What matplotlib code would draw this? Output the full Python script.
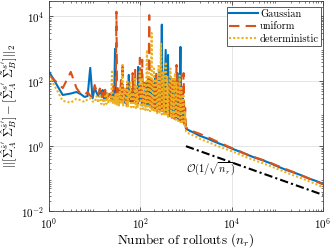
import matplotlib
matplotlib.use('Agg')
import matplotlib.pyplot as plt
from matplotlib.ticker import LogLocator, NullFormatter

plt.rcParams['font.family'] = 'serif'
plt.rcParams['font.serif'] = ['cmr10']
plt.rcParams['mathtext.fontset'] = 'cm'
plt.rcParams['axes.formatter.use_mathtext'] = True

# number of rollouts (shared by all three noise types)
n_rollouts = [1, 2, 3, 4, 5, 6, 7, 8, 9, 10,
              11, 12, 13, 14, 15, 16, 17, 18, 19,
              20, 21, 22, 23, 24, 25, 26, 27, 28, 29, 30, 31,
              32, 34, 35, 36, 38, 39, 41, 42, 44, 46, 48, 50,
              52, 54, 56, 58, 61, 63, 66, 68, 71, 74, 77, 80,
              83, 87, 90, 94, 98, 102, 106, 110, 115, 119, 124, 129,
              134, 140, 145, 151, 157, 164, 170, 177, 184, 192, 199, 207,
              216, 224, 233, 243, 252, 263, 273, 284, 296, 307, 320, 332,
              346, 360, 374, 389, 405, 421, 438, 455, 474, 493, 512, 533,
              554, 576, 599, 623, 648, 674, 701, 729, 758, 789, 820, 853,
              887, 923, 960, 1000,
              1200, 1500, 2000, 3000, 5000, 7000, 10000, 15000, 20000, 30000,
              50000, 70000, 100000, 150000, 200000, 300000, 500000, 700000, 1000000]

err_gaussian = [200, 38, 42, 47, 40, 33, 35, 260, 30, 62,
                45, 35, 55, 40, 54, 30, 48, 28, 42,
                33, 40, 38, 30, 26, 35, 45, 60, 1000, 30, 28, 36,
                40, 24, 33, 35, 30, 26, 45, 25, 22, 38, 30, 25,
                60, 30, 158, 28, 24, 40, 48, 22, 35, 60, 28, 32,
                35, 20, 280, 26, 25, 70, 30, 18, 45, 24, 20, 50,
                90, 17, 30, 120, 19, 40, 60, 15, 35, 85, 16, 28,
                150, 14, 40, 25, 70, 200, 13, 30, 5600, 12, 45, 14,
                120, 930, 11, 35, 650, 10, 40, 140, 9, 25, 80, 8,
                30, 45, 7.5, 22, 180, 7, 20, 60, 1150, 6, 18, 30,
                5.5, 12, 6, 3.5,
                3.0, 2.6, 2.1, 1.7, 1.25, 1.05, 0.85, 0.68, 0.58, 0.46,
                0.36, 0.30, 0.24, 0.19, 0.165, 0.135, 0.10, 0.085, 0.07]

err_uniform = [158, 62, 195, 62, 40, 38, 47, 36, 33, 77,
               50, 38, 60, 30, 45, 28, 55, 25, 40,
               30, 38, 45, 28, 25, 50, 70, 27, 35, 40, 14000, 30,
               30, 60, 22, 40, 110, 30, 370, 25, 35, 50, 28, 20,
               80, 35, 24, 45, 40, 22, 60, 180, 25, 40, 225, 22,
               30, 55, 20, 35, 530, 30, 40, 460, 18, 50, 90, 16,
               35, 60, 18, 45, 11000, 15, 40, 150, 14, 50, 70, 13,
               35, 200, 12, 60, 90, 11, 40, 280, 12, 30, 110, 10,
               45, 60, 140, 9, 35, 70, 8.5, 25, 90, 7.5, 40, 140,
               7, 30, 40, 320, 6.5, 25, 100, 6, 35, 60, 5.5, 20,
               180, 5, 15, 3.8,
               3.2, 2.8, 2.4, 1.9, 1.35, 1.1, 0.88, 0.70, 0.58, 0.47,
               0.37, 0.31, 0.25, 0.20, 0.17, 0.135, 0.10, 0.083, 0.066]

err_deterministic = [147, 25, 22, 29, 26, 23, 28, 30, 24, 23,
                     35, 22, 40, 20, 30, 19, 35, 20, 45,
                     21, 28, 35, 22, 225, 20, 30, 35, 19, 40, 25, 19,
                     45, 18, 30, 70, 20, 35, 320, 18, 40, 60, 25, 17,
                     110, 17, 45, 30, 90, 16, 35, 45, 16, 50, 120, 15,
                     70, 15, 40, 60, 200, 14, 45, 130, 14, 35, 80, 13,
                     50, 930, 13, 60, 180, 12, 45, 3100, 12, 70, 250, 11,
                     60, 120, 10.5, 45, 300, 10, 70, 1550, 9.5, 60, 200, 9,
                     50, 400, 8.5, 150, 8, 60, 90, 250, 7.5, 40, 120, 7,
                     60, 180, 6.5, 90, 50, 6, 40, 150, 5.5, 70, 5, 30,
                     40, 4.5, 12, 2.8,
                     2.4, 2.1, 1.7, 1.35, 1.0, 0.85, 0.70, 0.56, 0.47, 0.38,
                     0.29, 0.245, 0.20, 0.16, 0.135, 0.11, 0.082, 0.068, 0.054]

# reference rate O(1/sqrt(n_r))
ref_n = [1000, 1000000]
ref_err = [1.0, 0.0316]

x_ticks = [1, 1e2, 1e4, 1e6]
y_ticks = [1e-2, 1, 1e2, 1e4]

fig = plt.figure(figsize=(3.32, 2.48), dpi=100)
ax = fig.add_axes([0.1476, 0.149, 0.825, 0.847])

ax.plot(n_rollouts, err_gaussian, color='#0072BD', lw=1.5, label='Gaussian')
ax.plot(n_rollouts, err_uniform, color='#D95319', lw=1.5, ls=(0, (5, 3)), label='uniform')
ax.plot(n_rollouts, err_deterministic, color='#EDB120', lw=1.5, ls=(0, (1, 1)), label='deterministic')
ax.plot(ref_n, ref_err, color='black', lw=1.5, ls=(0, (4, 1.5, 1, 1.5)))
ax.text(1000, 0.19, r'$\mathcal{O}(1/\sqrt{n_r})$', fontsize=7.5, ha='left', va='center')

ax.set_xscale('log')
ax.set_yscale('log')
ax.set_xlim(1, 1e6)
ax.set_ylim(1e-2, 3e4)
ax.set_xticks(x_ticks)
ax.set_yticks(y_ticks)
ax.xaxis.set_minor_locator(LogLocator(base=10, subs='auto', numticks=20))
ax.yaxis.set_minor_locator(LogLocator(base=10, subs='auto', numticks=20))
ax.xaxis.set_minor_formatter(NullFormatter())
ax.yaxis.set_minor_formatter(NullFormatter())

ax.grid(True, which='major', color='0.88', lw=0.6)
ax.set_axisbelow(True)
ax.tick_params(which='both', direction='in', top=True, right=True, colors='0.25', labelcolor='black', labelsize=8)
ax.tick_params(which='major', length=3, width=0.6)
ax.tick_params(which='minor', length=1.6, width=0.5)
for sp in ax.spines.values():
    sp.set_color('0.25')
    sp.set_linewidth(0.6)

ax.set_xlabel(r'Number of rollouts ($n_r$)', fontsize=9.5, labelpad=0.5)
ax.set_ylabel(r"$||[\hat{\Sigma}^{\hat{s}'}_A\ \hat{\Sigma}^{\hat{s}'}_B] - [\tilde{\Sigma}^{s'}_A\ \tilde{\Sigma}^{s'}_B]||_2$",
              fontsize=9, labelpad=1)

leg = ax.legend(loc='upper right', bbox_to_anchor=(0.993, 0.971), fontsize=7.5, handlelength=2.8,
                handletextpad=0.15, borderaxespad=0, borderpad=0.2, labelspacing=0.3,
                fancybox=False, framealpha=1, edgecolor='0.25')
leg.get_frame().set_linewidth(0.6)

fig.savefig('out.png', dpi=100)
